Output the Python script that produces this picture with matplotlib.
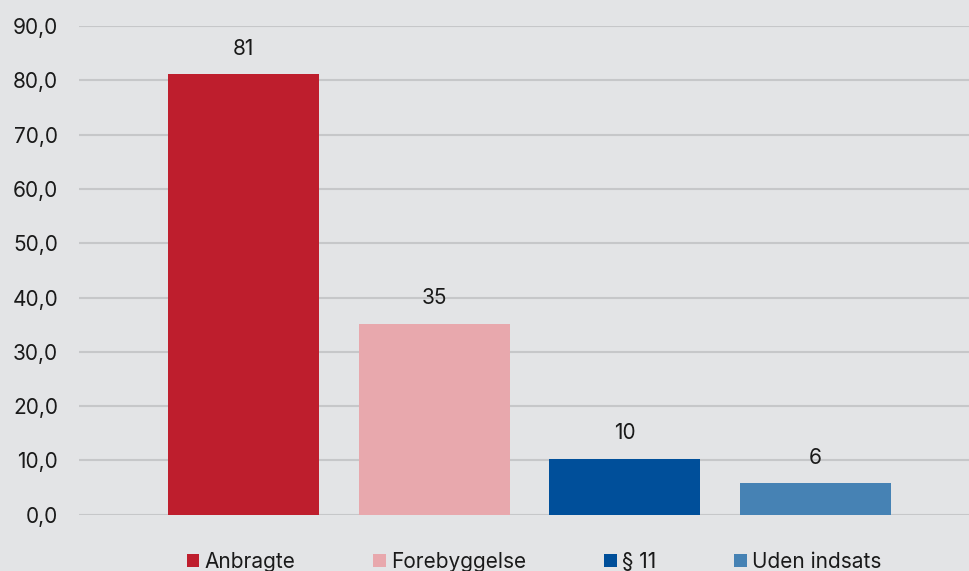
import matplotlib
matplotlib.use("Agg")
import matplotlib.pyplot as plt
from matplotlib.patches import Patch

series = ["Anbragte", "Forebyggelse", "§ 11", "Uden indsats"]
values = [81.2, 35.2, 10.3, 5.8]
labels = ["81", "35", "10", "6"]
colors = ["#BE1E2D", "#E8A8AD", "#004F9A", "#4682B4"]
yticks = [0, 10, 20, 30, 40, 50, 60, 70, 80, 90]

bg = "#E3E4E6"
plt.rcParams["font.family"] = ["Inter", "DejaVu Sans"]

fig = plt.figure(figsize=(9.7, 5.71), dpi=100, facecolor=bg)
ax = fig.add_axes([79 / 970, 56.3 / 571, 891 / 970, (514.7 - 26) / 571])
ax.set_facecolor(bg)

x = list(range(len(series)))
bars = ax.bar(x, values, width=0.793, color=colors, zorder=3)
for b, lab in zip(bars, labels):
    ax.annotate(lab, (b.get_x() + b.get_width() / 2, b.get_height()),
                xytext=(0, 11), textcoords="offset points",
                ha="center", va="bottom", fontsize=15, color="#1a1a1a")

ax.set_ylim(0, 90)
ax.set_xlim(-0.8635, 3.811)
ax.set_yticks(yticks)
ax.set_yticklabels([f"{v:.1f}".replace(".", ",") for v in yticks])
ax.set_xticks([])
ax.tick_params(axis="y", length=0, pad=15, labelsize=15, labelcolor="#1a1a1a")
ax.grid(axis="y", color="#C6C7C9", linewidth=1.5, zorder=0)
for s in ax.spines.values():
    s.set_visible(False)

handles = [Patch(facecolor=c, edgecolor="none") for c in colors]
fig.legend(handles, series, loc="center", bbox_to_anchor=(534 / 970, 1 - 562 / 571),
           ncol=4, frameon=False, fontsize=15, handlelength=0.6, handleheight=0.6,
           handletextpad=0.25, columnspacing=3.75, labelcolor="#1a1a1a")

fig.savefig("out.png", dpi=100, facecolor=bg)
